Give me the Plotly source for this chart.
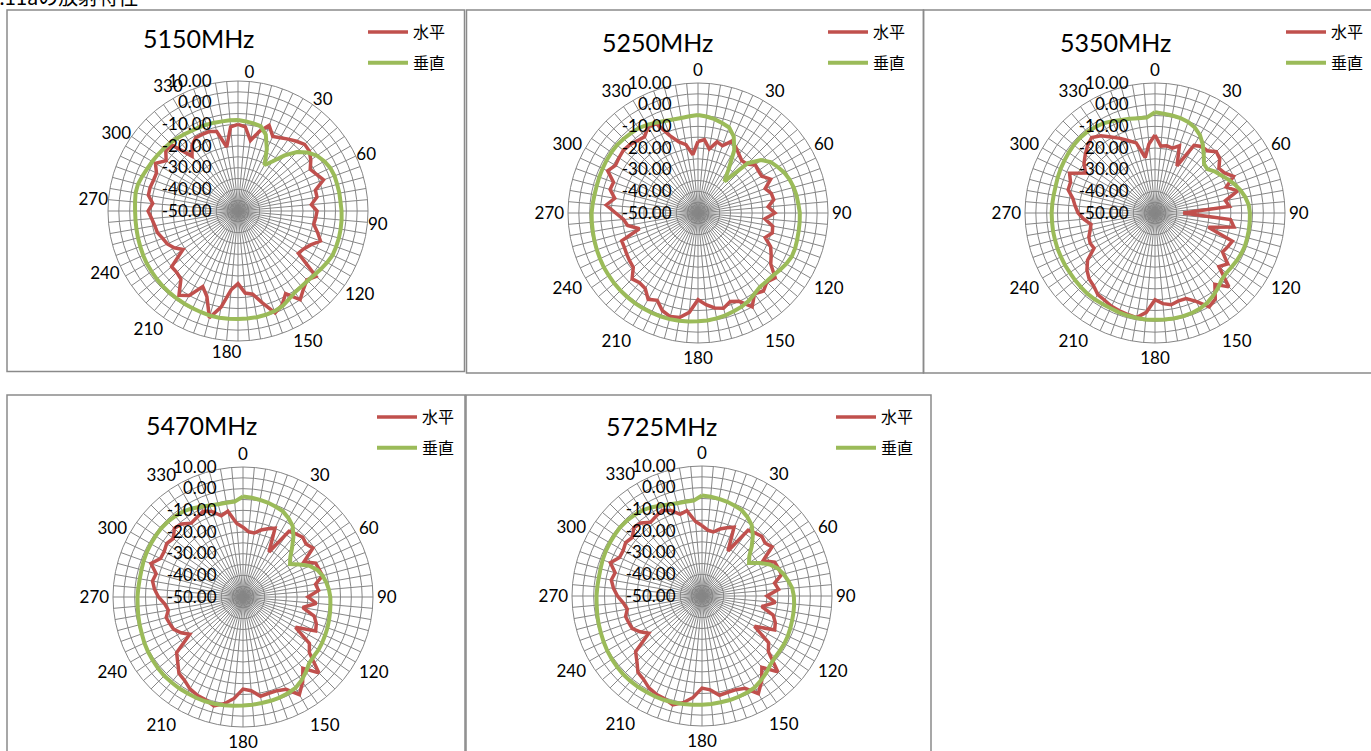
import plotly.graph_objects as go

W, H = 1371, 751

# ---------------- data ----------------
angles = list(range(0, 360, 5))
angle_labels = [str(a) if a % 30 == 0 else "" for a in angles]
r_ticks = list(range(-50, 11, 5))
r_labels = [f"{v:.2f}" if v % 10 == 0 else "" for v in r_ticks]

titles = ["5150MHz", "5250MHz", "5350MHz", "5470MHz", "5725MHz"]
series_names = ["水平", "垂直"]
page_title = "802.11aの放射特性"

h_5150 = [-10, -11, -17, -12, -8, -12, -11, -9.5, -8, -6.5, -7, -9,
          -11.5, -10, -8, -13, -13, -16, -13.5, -14, -14.5, -12, -9.5, -13,
          -15, -16, -3, -5, -3, 0, -6, -2, 0, -6, -11, -12,
          -16.5, -13.5, -5, 1, -8, -11.5, -5, -2.5, -9, -10, -10, -19,
          -16, -14, -13, -11.5, -11, -10, -8.5, -10.5, -8, -8, -8.5, -8.5,
          -6, -9.5, -6.5, -7, -17, -13, -11, -11, -11, -12, -20, -11]
v_5150 = [-8, -8.5, -9, -9.5, -12.5, -18.5, -25.5, -22, -16.5, -11.5, -8, -5.5,
          -4, -3, -2.6, -2.6, -2.5, -2.5, -2.2, -2, -1.9, -1.8, -1.8, -1.8,
          -2.5, -3.3, -4, -4.5, -4.5, -4.2, -3, -1.5, -0.8, -0.4, -0.2, -0.2,
          -0.2, -0.1, 0, 0, -0.3, -0.5, -0.6, -0.7, -0.8, -0.9, -1.1, -1.3,
          -1.4, -1.7, -2, -2.2, -2.4, -2.5, -2.5, -2.3, -2, -2.2, -3, -3.8,
          -4.3, -4.8, -5.2, -5.6, -6.2, -6.8, -7.2, -7.4, -7.6, -7.8, -8, -8]

h_5250 = [-17, -16, -20, -16, -17, -13.5, -15, -17, -18.5, -18, -15.5, -16,
          -16, -13, -17, -15, -14.5, -17.5, -14.5, -19, -15, -14.5, -17, -13,
          -11, -9, -3.5, -5, -3, -4.5, 0, -5, -6.5, -4.5, -5.5, -7.5,
          -10, -4, -1, -0.5, -2, -5.5, -4, -7.5, -8, -7, -11, -11.5,
          -12, -12.5, -12.5, -22, -17, -15.5, -12, -7.5, -11, -8, -8.5, -4,
          -6, -5.5, -5, -5.5, -6.5, -7, -4, -4.5, -12, -16, -18, -23]
v_5250 = [-4.8, -5.3, -6, -7, -8, -11, -16.5, -25.5, -31, -17.5, -12, -9,
          -7.5, -6, -5, -4.3, -3.8, -3.5, -3, -2.9, -2.8, -2.6, -2.3, -2.3,
          -3, -4, -5, -5.3, -5.5, -4.5, -3.2, -2.3, -1.7, -1.1, -0.6, -0.2,
          0, 0.3, 0.5, 0.7, 0.8, 0.8, 0.8, 0.8, 0.7, 0.6, 0.5, 0.3,
          0.2, -0.1, -0.3, -0.5, -0.7, -0.8, -0.9, -1.2, -1.5, -1.6, -1.5, -1.4,
          -1.3, -1.2, -1.2, -1.5, -1.9, -2.2, -3, -4, -4.8, -5.3, -5.5, -5.2]

h_5350 = [-14, -19, -18.5, -19, -17, -26, -14, -12.5, -12.5, -10, -11, -14,
          -13, -10, -15, -10.5, -17, -15.5, -37, -15, -13, -24.5, -12, -13,
          -14, -9, -11.5, -1.8, -7, -1.5, 0, -5, -8, -8, -7, -8,
          -10, -4, -1, -1.5, -2, -2.5, -3.5, -4, -6, -7, -9, -12,
          -17.5, -17, -17.5, -19, -20, -17, -14.5, -13, -11.5, -8.5, -8.5, -6.5,
          -13, -10, -8, -6, -4.5, -6.5, -9.5, -12, -14.5, -16.5, -24, -18]
v_5350 = [-3.5, -4, -4.3, -4.6, -5.3, -6.5, -8.5, -11.5, -15, -18, -18.5, -16.5,
          -15, -13, -11, -9.2, -7.7, -6.6, -6.2, -6.1, -6, -5.9, -5.8, -6,
          -6.3, -6.7, -7, -6.5, -4.8, -3.3, -2, -1.2, -0.8, -0.6, -0.6, -0.7,
          -0.7, -0.7, -0.8, -1, -1.2, -1.5, -1.5, -1.4, -1.4, -1.6, -1.8, -2,
          -2, -2.1, -2.1, -2.2, -2.2, -2.3, -2.3, -2.4, -2.5, -2.5, -2.2, -1.9,
          -1.7, -1.4, -1.1, -1, -1.2, -1.7, -2.2, -3.2, -4.3, -5, -5.6, -5.8]

h_5470 = [-17.8, -19.8, -20, -18, -16.5, -15, -26, -13, -12, -11, -12, -10.6,
          -17.5, -13, -12.6, -12, -16, -15, -20, -16, -22, -16, -14, -13,
          -22, -12.6, -10, -0.5, -7, -2, 2, -3, -4, -4, -3.5, -6.6,
          -7.5, -3, 0, 2, 0.5, 0, -1, -3, -4, -7.4, -10, -20,
          -17, -14.7, -14, -13.3, -15, -13.7, -11, -9, -7.6, -8.5, -4.8, -8,
          -8, -7, -8, -5.2, -6, -8.4, -7.5, -6.4, -8, -11.2, -9.8, -15.8]
v_5470 = [-3.6, -4, -4.5, -5, -5.7, -6.4, -8, -10, -13.8, -18, -21.5, -23.5,
          -20, -16, -13.5, -12, -11, -10.2, -9.7, -9.5, -9.2, -8.9, -8.5, -8.2,
          -7.8, -7.5, -7.4, -6.8, -4.8, -3, -1.5, -1, -0.6, -0.4, -0.3, -0.1,
          0.1, 0.4, 0.7, 1, 1.2, 1.3, 1.3, 1.4, 1.4, 1.4, 1.2, 0.9,
          0.6, 0.2, -0.3, -0.6, -0.9, -1.2, -1.3, -1.5, -1.6, -1.5, -1.2, -1,
          -0.9, -0.8, -0.7, -0.9, -1.3, -1.8, -2.8, -4, -5, -5.7, -5.8, -5.8]

h_5725 = [-17.5, -19.5, -20, -18, -16.5, -15, -26, -13, -12, -11, -12, -10.5,
          -17.5, -13, -12.5, -12, -16, -14.5, -20, -16, -22, -16, -14, -13,
          -22, -12.5, -10, -0.5, -7, -2, 2, -3, -4, -4, -3.5, -6.5,
          -7.5, -3, 0, 2, 0.5, 0, -1, -3, -4, -7.5, -10, -20,
          -17, -14.5, -14, -13.5, -15, -13.5, -11, -9, -7.5, -8.5, -5, -8,
          -8, -7, -8, -5.5, -6, -8.5, -7.5, -6.5, -8, -11, -10, -15.5]
v_5725 = [-3.6, -4, -4.5, -5, -5.7, -6.4, -8, -10, -13.5, -17.5, -21.5, -23.5,
          -19.5, -15.5, -12.8, -11, -9.6, -8.2, -7.6, -7.3, -7.1, -6.9, -6.6, -6.3,
          -6.1, -6.1, -6, -5.3, -3.8, -2.5, -1.3, -0.8, -0.5, -0.3, -0.2, 0,
          0.2, 0.4, 0.6, 0.9, 1.1, 1.2, 1.2, 1.3, 1.3, 1.3, 1.1, 0.8,
          0.5, 0.1, -0.3, -0.6, -0.9, -1.2, -1.3, -1.5, -1.6, -1.5, -1.2, -1,
          -0.9, -0.8, -0.7, -0.9, -1.3, -1.8, -2.8, -4, -5, -5.7, -5.8, -5.8]

charts = [(titles[0], h_5150, v_5150), (titles[1], h_5250, v_5250),
          (titles[2], h_5350, v_5350), (titles[3], h_5470, v_5470),
          (titles[4], h_5725, v_5725)]

# ---------------- styling / layout ----------------
RED = "#C0504D"
GREEN = "#9BBB59"
GRID = "#868686"
NUMFONT = "Lato, 'Liberation Sans', sans-serif"
JPFONT = "'Noto Sans CJK JP', 'Noto Sans', sans-serif"
AXFONT = 17

R = 130
centers = [(238, 211), (698, 213), (1155, 213), (243, 597), (702, 596)]
legend_pos = [(363, 15), (823, 15), (1281, 15), (372, 400), (831, 400)]
title_pos = [(198, 38), (657, 42), (1115, 42), (202, 425), (661, 426)]
panels = [(7, 10, 464.5, 371.5), (466.5, 10, 923.5, 373), (923.5, 10, 1380, 373),
          (7, 395, 465, 770), (466, 395, 931, 770)]


def fx(x):
    return x / W


def fy(y):
    return 1 - y / H


fig = go.Figure()
for i, (title, h, v) in enumerate(charts):
    sub = "polar" if i == 0 else f"polar{i + 1}"
    leg = "legend" if i == 0 else f"legend{i + 1}"
    for name, vals, color, width in ((series_names[0], h, RED, 3.5),
                                     (series_names[1], v, GREEN, 4)):
        fig.add_trace(go.Scatterpolar(
            r=vals + vals[:1], theta=angles + [360], mode="lines", name=name,
            line=dict(color=color, width=width), subplot=sub, legend=leg,
            legendgroup=f"{i}-{name}", hoverinfo="skip"))

# overlay subplot carrying the (slightly rotated) angle labels of chart 1
fig.add_trace(go.Scatterpolar(r=[], theta=[], subplot="polar6", showlegend=False,
                              hoverinfo="skip"))

layout = dict(width=W, height=H, margin=dict(l=0, r=0, t=0, b=0),
              paper_bgcolor="white", plot_bgcolor="white", showlegend=True,
              font=dict(family=NUMFONT, size=16, color="black"))

shapes = []
annotations = []
for i, (cx, cy) in enumerate(centers):
    key = "polar" if i == 0 else f"polar{i + 1}"
    layout[key] = dict(
        domain=dict(x=[fx(cx - R), fx(cx + R)], y=[fy(cy + R), fy(cy - R)]),
        bgcolor="white",
        radialaxis=dict(range=[-50, 10], tickvals=r_ticks, ticktext=r_labels,
                        angle=90, tickangle=90, side="counterclockwise",
                        ticks="outside", ticklen=20, tickcolor="rgba(0,0,0,0)",
                        showline=False, gridcolor=GRID, gridwidth=1,
                        tickfont=dict(family=NUMFONT, size=AXFONT, color="black")),
        angularaxis=dict(rotation=90, direction="clockwise", tickmode="array",
                         tickvals=angles, ticktext=angle_labels, ticks="",
                         showline=True, linecolor=GRID, linewidth=1,
                         gridcolor=GRID, gridwidth=1,
                         showticklabels=(i != 0),
                         tickfont=dict(family=NUMFONT, size=AXFONT, color="black")))
    lk = "legend" if i == 0 else f"legend{i + 1}"
    lx, ly = legend_pos[i]
    layout[lk] = dict(x=fx(lx), y=fy(ly), xanchor="left", yanchor="top",
                      bgcolor="rgba(0,0,0,0)", borderwidth=0,
                      traceorder="grouped", tracegroupgap=7, itemwidth=40,
                      font=dict(family=JPFONT, size=16, color="black"))
    tx, ty = title_pos[i]
    annotations.append(dict(text=charts[i][0], x=fx(tx), y=fy(ty), xref="paper",
                            yref="paper", xanchor="center", yanchor="middle",
                            showarrow=False,
                            font=dict(family=NUMFONT, size=25, color="black")))

cx, cy = centers[0]
layout["polar6"] = dict(
    domain=dict(x=[fx(cx - R), fx(cx + R)], y=[fy(cy + R), fy(cy - R)]),
    bgcolor="rgba(0,0,0,0)",
    radialaxis=dict(visible=False, range=[-50, 10]),
    angularaxis=dict(rotation=85, direction="clockwise", tickmode="array",
                     tickvals=angles, ticktext=angle_labels, ticks="",
                     showline=False, showgrid=False,
                     tickfont=dict(family=NUMFONT, size=AXFONT, color="black")))

for (x0, y0, x1, y1) in panels:
    shapes.append(dict(type="rect", xref="paper", yref="paper",
                       x0=fx(x0), x1=fx(x1), y0=fy(y1), y1=fy(y0),
                       line=dict(color="#8a8a8a", width=1.5), layer="below"))

annotations.append(dict(text=page_title, x=fx(140), y=fy(-3), xref="paper", yref="paper",
                        xanchor="right", yanchor="middle", showarrow=False,
                        font=dict(family=JPFONT, size=20, color="black")))

layout["shapes"] = shapes
layout["annotations"] = annotations
fig.update_layout(**layout)

fig.write_html("out.html", config={"displayModeBar": False},
               post_script="document.body.style.margin='0px';")
